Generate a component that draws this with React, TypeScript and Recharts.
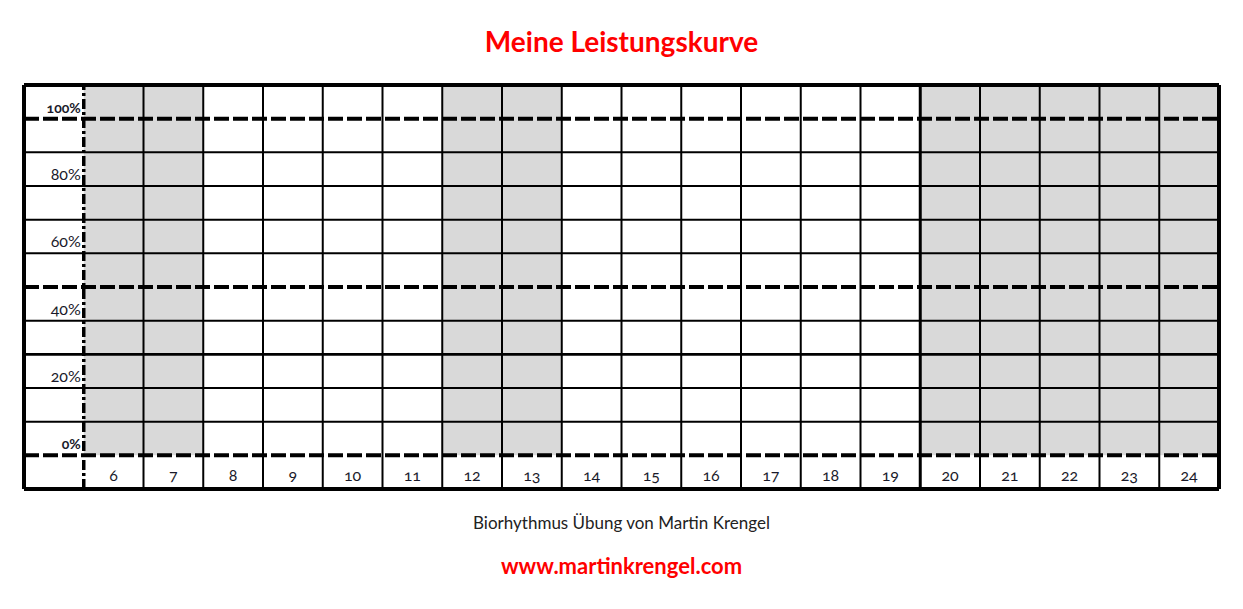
import React from "react";
import {
  ComposedChart,
  XAxis,
  YAxis,
  Scatter,
  ReferenceArea,
  ReferenceLine,
} from "recharts";

// hour columns (column h spans [h, h+1]; the label column spans [5, 6])
const hours = [6, 7, 8, 9, 10, 11, 12, 13, 14, 15, 16, 17, 18, 19, 20, 21, 22, 23, 24];
const shadedHours = [6, 7, 12, 13, 20, 21, 22, 23, 24];
const columnLines = [7, 8, 9, 10, 11, 12, 13, 14, 15, 16, 17, 18, 19, 20, 21, 22, 23, 24];
const thickColumnLines = [20];

// rows are 10% high; the bottom row (-10..0) holds the hour labels
const percentLabels = [100, 80, 60, 40, 20, 0];
const solidRows = [90, 80, 70, 60, 40, 30, 20, 10];
const dashedRows = [100, 50, 0];

const FONT = "Lato, 'Open Sans', sans-serif";

const hourPoints = hours.map((h) => ({ x: h + 0.5, y: -10, label: String(h) }));
const percentPoints = percentLabels.map((p) => ({ x: 6, y: p, label: `${p}%`, bold: p === 100 || p === 0 }));

const HourLabel = (props: any) => {
  const { cx, cy, payload } = props;
  return (
    <text
      x={cx}
      y={cy}
      dy={-8}
      textAnchor="middle"
      fontFamily={FONT}
      fontSize={16}
      fill="#1a1a2a"
      style={{ fontVariantNumeric: "oldstyle-nums" }}
    >
      {payload.label}
    </text>
  );
};

const PercentLabel = (props: any) => {
  const { cx, cy, payload } = props;
  return (
    <text
      x={cx - 3}
      y={cy}
      dy={-6}
      textAnchor="end"
      fontFamily={FONT}
      fontSize={payload.bold ? 14 : 16}
      fontWeight={payload.bold ? 700 : 400}
      fill="#1a1a2a"
      style={{ fontVariantNumeric: "oldstyle-nums" }}
    >
      {payload.label}
    </text>
  );
};

export default function App() {
  return (
    <div
      style={{
        position: "absolute",
        left: 0,
        top: 0,
        width: 1243,
        height: 609,
        background: "#fff",
        fontFamily: FONT,
      }}
    >
      <div
        style={{
          position: "absolute",
          top: 25,
          width: "100%",
          textAlign: "center",
          color: "#ff0000",
          fontWeight: 700,
          fontSize: 28,
          lineHeight: "32px",
        }}
      >
        Meine Leistungskurve
      </div>

      <div style={{ position: "absolute", left: 0, top: 0 }}>
        <ComposedChart
          width={1243}
          height={609}
          margin={{ top: 85, right: 24, bottom: 120, left: 24 }}
        >
          <XAxis type="number" dataKey="x" domain={[5, 25]} hide />
          <YAxis type="number" dataKey="y" domain={[-10, 110]} hide />

          {shadedHours.map((h) => (
            <ReferenceArea
              key={`shade-${h}`}
              x1={h}
              x2={h + 1}
              y1={0}
              y2={110}
              fill="#d9d9d9"
              fillOpacity={1}
              stroke="none"
            />
          ))}

          {solidRows.map((v) => (
            <ReferenceLine key={`row-${v}`} y={v} stroke="#000" strokeWidth={v === 30 ? 2.6 : 2} />
          ))}
          {columnLines.map((h) => (
            <ReferenceLine
              key={`col-${h}`}
              x={h}
              stroke="#000"
              strokeWidth={thickColumnLines.includes(h) ? 3 : 2}
            />
          ))}
          {dashedRows.map((v) => (
            <ReferenceLine
              key={`dash-${v}`}
              y={v}
              stroke="#000"
              strokeWidth={4}
              strokeDasharray="15 4"
            />
          ))}
          <ReferenceLine x={6} stroke="#000" strokeWidth={3.5} strokeDasharray="10 3 3 3" />

          {/* outer frame */}
          <ReferenceLine x={5} stroke="#000" strokeWidth={4} />
          <ReferenceLine x={25} stroke="#000" strokeWidth={4} />
          <ReferenceLine y={110} stroke="#000" strokeWidth={4} />
          <ReferenceLine y={-10} stroke="#000" strokeWidth={4} />

          <Scatter data={hourPoints} shape={HourLabel} isAnimationActive={false} />
          <Scatter data={percentPoints} shape={PercentLabel} isAnimationActive={false} />
        </ComposedChart>
      </div>

      <div
        style={{
          position: "absolute",
          top: 513,
          width: "100%",
          textAlign: "center",
          color: "#222",
          fontSize: 17,
          lineHeight: "20px",
        }}
      >
        Biorhythmus Übung von Martin Krengel
      </div>
      <div
        style={{
          position: "absolute",
          top: 554,
          width: "100%",
          textAlign: "center",
          color: "#ff0000",
          fontWeight: 700,
          fontSize: 22,
          lineHeight: "24px",
        }}
      >
        www.martinkrengel.com
      </div>
    </div>
  );
}
